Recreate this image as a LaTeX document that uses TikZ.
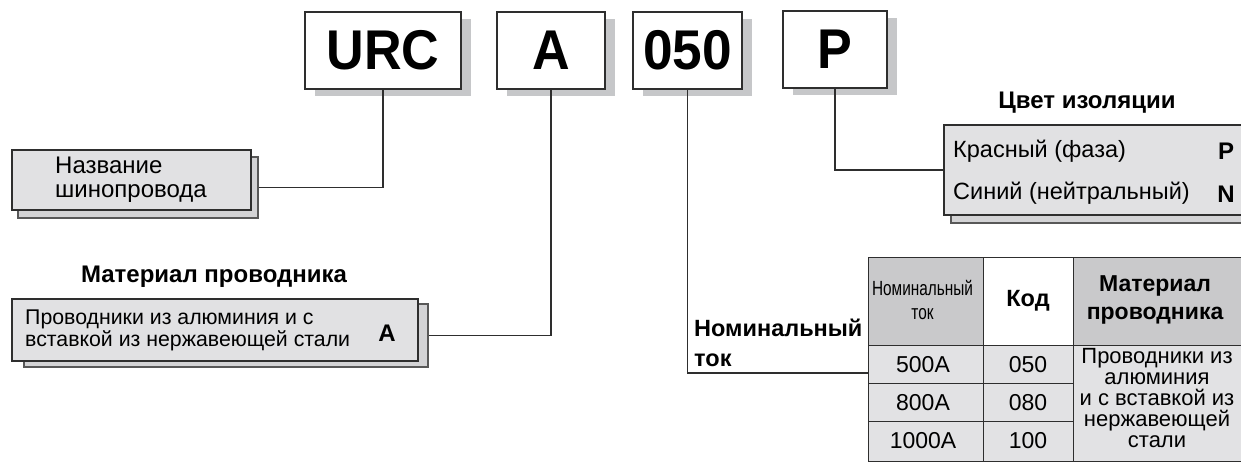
\documentclass[tikz,border=0pt]{standalone}
\usepackage{fontspec}
\setmainfont{Liberation Sans}
\usetikzlibrary{shadows,calc}
\definecolor{ln}{HTML}{2E2E2E}
\definecolor{shd}{HTML}{C6C7C9}
\definecolor{card}{HTML}{E1E1E3}
\definecolor{cardb}{HTML}{D3D3D5}
\definecolor{hdr}{HTML}{C9C9CB}
\definecolor{cell}{HTML}{E2E2E4}
\newcommand{\cond}[2]{\scalebox{#1}[1]{#2}}
\begin{document}
\begin{tikzpicture}[x=1pt,y=-1pt,
  codebox/.style={draw=ln, line width=1.4pt, fill=white, minimum height=77pt, inner sep=0pt,
    font=\fontsize{56}{60}\selectfont\bfseries,
    drop shadow={shadow xshift=10pt, shadow yshift=-7pt, fill=shd, opacity=1}},
  cardf/.style={draw=ln, line width=1.2pt, fill=card, inner sep=0pt},
  cardb/.style={draw=ln!80, line width=1.2pt, fill=cardb, inner sep=0pt},
  conn/.style={draw=ln, line width=1.3pt},
  txt/.style={font=\fontsize{23.5}{27}\selectfont, inner sep=0pt},
  btxt/.style={font=\fontsize{24}{28}\selectfont\bfseries, inner sep=0pt},
  tcell/.style={font=\fontsize{23}{26}\selectfont, inner sep=0pt}
]
\useasboundingbox (0,0) rectangle (1241,464);
\clip (0,0) rectangle (1241,464);

% code boxes
\node[codebox, minimum width=156pt] (urc) at (383,50.5) {\cond{0.93}{URC}};
\node[codebox, minimum width=108pt] (ca) at (551,50.5) {\cond{0.93}{A}};
\node[codebox, minimum width=109pt] (c050) at (687.5,50.5) {\cond{0.95}{050}};
\node[codebox, minimum width=104pt] (cp) at (835,49.5) {\cond{0.93}{P}};

% name card
\node[cardb, minimum width=240pt, minimum height=61pt] (nameb) at (138,187.5) {};
\node[cardf, minimum width=239pt, minimum height=60pt] (name) at (131.5,180) {};
\node[txt, anchor=west, align=left, font=\fontsize{24}{24}\selectfont] (namet) at (55,180) {Название\\шинопровода};

% material card
\node[btxt] (matt) at (214,277) {Материал проводника};
\node[cardb, minimum width=404pt, minimum height=63pt] (matb) at (226,335.5) {};
\node[cardf, minimum width=406pt, minimum height=62pt] (mat) at (215,330) {};
\node[txt, anchor=west, align=left, font=\fontsize{21.3}{22}\selectfont] (matx) at (25,330) {Проводники из алюминия и с\\вставкой из нержавеющей стали};
\node[btxt] (mata) at (387,333) {A};

% colour card
\node[btxt] (colt) at (1087,103) {Цвет изоляции};
\node[cardb, minimum width=309pt, minimum height=92pt] (colb) at (1105.5,177) {};
\node[cardf, minimum width=306pt, minimum height=90pt] (colf) at (1097,170) {};
\node[txt, anchor=west] (red) at (953,151) {Красный (фаза)};
\node[txt, anchor=west] (blue) at (953,193) {Синий (нейтральный)};
\node[btxt] (pp) at (1226,151) {P};
\node[btxt] (nn) at (1226,194) {N};

% table
\fill[hdr] (868,257) rectangle (983,345);
\fill[white] (983,257) rectangle (1073,345);
\fill[hdr] (1073,257) rectangle (1250,345);
\fill[cell] (868,345) rectangle (1250,461);
\draw[ln, line width=1pt] (868,257) -- (1250,257);
\draw[ln, line width=1pt] (868,257) -- (868,461) -- (1250,461);
\draw[ln, line width=1pt] (983,257) -- (983,461);
\draw[ln, line width=1pt] (1073,257) -- (1073,461);
\draw[ln, line width=1pt] (868,345) -- (1250,345);
\draw[ln, line width=1pt] (868,383) -- (1073,383);
\draw[ln, line width=1pt] (868,421) -- (1073,421);
\node[inner sep=0pt, align=center, font=\fontsize{20.5}{24}\selectfont] (h1) at (922.5,300) {\cond{0.75}{Номинальный}\\\cond{0.75}{ток}};
\node[btxt, font=\fontsize{23.5}{27}\selectfont\bfseries] (h2) at (1028,301) {Код};
\node[btxt, align=center, font=\fontsize{23}{28}\selectfont\bfseries] (h3) at (1155,300) {Материал\\проводника};
\node[tcell] (r1a) at (923,365) {500A};
\node[tcell] (r1b) at (1028,365) {050};
\node[tcell] (r2a) at (923,403) {800A};
\node[tcell] (r2b) at (1028,403) {080};
\node[tcell] (r3a) at (923,441) {1000A};
\node[tcell] (r3b) at (1028,441) {100};
\node[tcell, align=center, font=\fontsize{22}{20.8}\selectfont] (mcell) at (1157,398) {Проводники из\\алюминия\\и с вставкой из\\нержавеющей\\стали};
\node[btxt, anchor=west, align=left, font=\fontsize{23.5}{30}\selectfont\bfseries] (nomt) at (694,343) {Номинальный\\ток};
\coordinate (tabl) at (868,373);

% connectors
\draw[conn] (nameb.east) -| (urc.south);
\draw[conn] (matb.east) -| (ca.south);
\draw[conn] (c050.south) |- (tabl);
\draw[conn] (cp.south) |- (colf.west);
\end{tikzpicture}
\end{document}
